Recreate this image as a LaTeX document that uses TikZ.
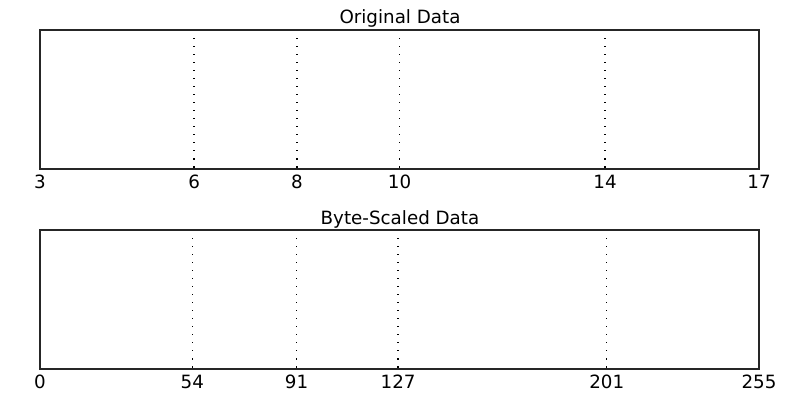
\documentclass[tikz,border=0pt]{standalone}
\usepackage{fontspec}
\setmainfont{DejaVu Sans}
\usetikzlibrary{positioning}
\tikzset{
  % riquadro di un asse
  axbox/.style={draw=black!85, line width=0.9pt},
  % linea verticale punteggiata
  vline/.style={black, line width=0.9pt, dash pattern=on 0.9pt off 4.8pt},
  % etichette
  ticklbl/.style={font=\fontsize{13}{15}\selectfont, anchor=base, inner sep=0pt},
  titlelbl/.style={font=\fontsize{13}{15}\selectfont, anchor=base, inner sep=0pt},
}
\begin{document}
\begin{tikzpicture}[x=0.025cm, y=-0.025cm]
  \useasboundingbox (0,0) rectangle (800,400);
  % dati originali
  \begin{scope}
    \node[titlelbl] (t1) at (400,24) {Original Data};
    \foreach \v/\px in {6/194.1, 8/296.9, 10/399.6, 14/605} {
      \coordinate (a\v) at (\px,30);
      \coordinate (b\v) at (\px,169);
      \draw[vline] (a\v) -- (b\v);
    }
    \foreach \v/\px in {3/40, 6/194.1, 8/296.9, 10/399.6, 14/605, 17/759} {
      \node[ticklbl] (l\v) at (\px,188) {\v};
    }
    \coordinate (sw1) at (40,169);
    \coordinate (ne1) at (759,30);
    \draw[axbox] (sw1) rectangle (ne1);
  \end{scope}
  % dati scalati
  \begin{scope}[shift={(0,200)}]
    \node[titlelbl] (t2) at (400,24) {Byte-Scaled Data};
    \foreach \v/\px in {54/192.3, 91/296.6, 127/398.1, 201/606.7} {
      \coordinate (c\v) at (\px,30);
      \coordinate (d\v) at (\px,169);
      \draw[vline] (c\v) -- (d\v);
    }
    \foreach \v/\px in {0/40, 54/192.3, 91/296.6, 127/398.1, 201/606.7, 255/759} {
      \node[ticklbl] (m\v) at (\px,188) {\v};
    }
    \coordinate (sw2) at (40,169);
    \coordinate (ne2) at (759,30);
    \draw[axbox] (sw2) rectangle (ne2);
  \end{scope}
\end{tikzpicture}
\end{document}
